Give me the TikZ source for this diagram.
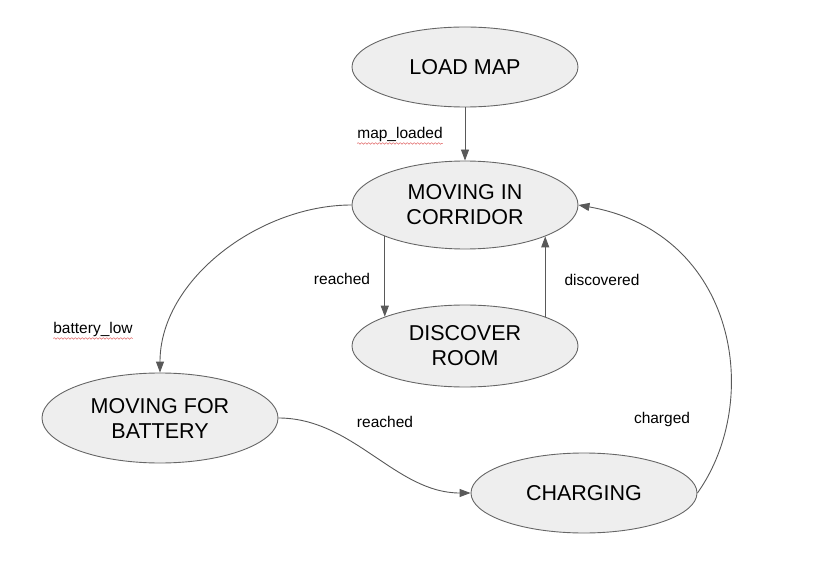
\documentclass[tikz,border=0pt]{standalone}
\usepackage{fontspec}
\setmainfont{Liberation Sans}
\usetikzlibrary{shapes.geometric,arrows.meta,decorations.pathmorphing}
\definecolor{stfill}{HTML}{EEEEEE}
\definecolor{stline}{HTML}{666666}
\definecolor{arline}{HTML}{595959}
\definecolor{spell}{HTML}{E06666}

\begin{document}
\begin{tikzpicture}[x=1pt,y=-1pt,
  state/.style={ellipse,draw=stline,fill=stfill,line width=0.9pt,inner sep=0pt,minimum width=226,align=center,font=\fontsize{21.5}{25}\selectfont},
  trans/.style={draw=arline,line width=0.9pt,-{Triangle[length=11pt,width=8pt]}},
  lbl/.style={font=\fontsize{15.5}{18}\selectfont,inner sep=0pt},
  typo/.style={draw=spell,line width=0.5pt,decorate,decoration={snake,amplitude=0.8pt,segment length=3.5pt}}]
\useasboundingbox (0,0) rectangle (814,564);
% states
\node[state,minimum height=80] (load) at (465,67) {LOAD MAP};
\node[state,minimum height=88] (corr) at (465,205) {MOVING IN\\CORRIDOR};
\node[state,minimum height=82] (disc) at (465,346) {DISCOVER\\ROOM};
\node[state,minimum height=90,minimum width=236] (batt) at (160,418) {MOVING FOR\\BATTERY};
\node[state,minimum height=80] (charg) at (584,493) {CHARGING};
% transitions
\draw[trans] (load.south) -- (corr.north);
\draw[trans] (corr.south west) -- (disc.north west);
\draw[trans] (disc.north east) -- (corr.south east);
\draw[trans] (corr.west) .. controls +(-92,0) and +(0,-93) .. (batt.north);
\draw[trans] (batt.east) .. controls +(75,0) and +(-75,0) .. (charg.west);
\draw[trans] (charg.east) .. controls +(66,-93) and +(158,28) .. (corr.east);
% labels
\node[lbl] (mapl) at (400,134) {map\_loaded};
\node[lbl] (reach1) at (342,279) {reached};
\node[lbl] (discl) at (602,280) {discovered};
\node[lbl] (battl) at (93,329) {battery\_low};
\node[lbl] (reach2) at (385,422) {reached};
\node[lbl] (chargl) at (662,419) {charged};
\draw[typo] ([yshift=-2]mapl.south west) -- ([yshift=-2]mapl.south east);
\draw[typo] ([yshift=-2]battl.south west) -- ([yshift=-2]battl.south east);
\end{tikzpicture}
\end{document}
